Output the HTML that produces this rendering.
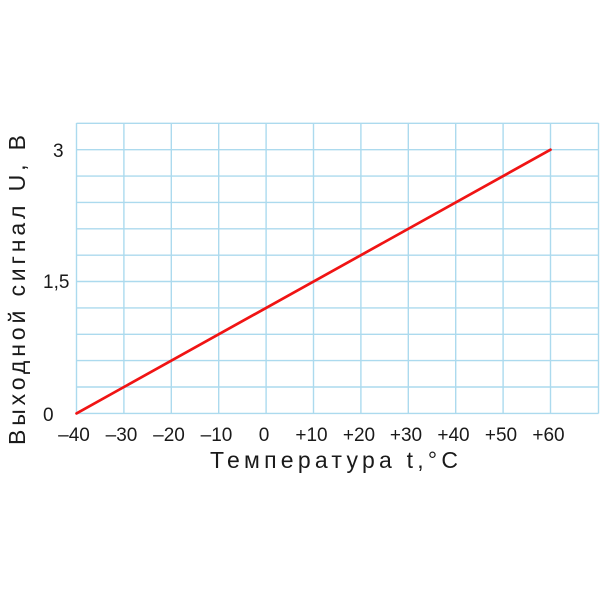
<!DOCTYPE html>
<html><head><meta charset="utf-8"><style>
html,body{margin:0;padding:0;background:#fff;}
svg{display:block;}
text{font-family:"Liberation Sans","DejaVu Sans",sans-serif;fill:#1a1a1a;}
</style></head><body>
<svg width="600" height="600" viewBox="0 0 600 600" xmlns="http://www.w3.org/2000/svg">
<rect x="0" y="0" width="600" height="600" fill="#ffffff"/>
<g stroke="#acdaee" stroke-width="1.4" fill="none">
<line x1="76.5" y1="123" x2="76.5" y2="413.5"/>
<line x1="123.9" y1="123" x2="123.9" y2="413.5"/>
<line x1="171.3" y1="123" x2="171.3" y2="413.5"/>
<line x1="218.7" y1="123" x2="218.7" y2="413.5"/>
<line x1="266.1" y1="123" x2="266.1" y2="413.5"/>
<line x1="313.5" y1="123" x2="313.5" y2="413.5"/>
<line x1="360.9" y1="123" x2="360.9" y2="413.5"/>
<line x1="408.3" y1="123" x2="408.3" y2="413.5"/>
<line x1="455.7" y1="123" x2="455.7" y2="413.5"/>
<line x1="503.1" y1="123" x2="503.1" y2="413.5"/>
<line x1="550.5" y1="123" x2="550.5" y2="413.5"/>
<line x1="598.5" y1="123" x2="598.5" y2="413.5"/>
<line x1="76.5" y1="123.3" x2="598.5" y2="123.3"/>
<line x1="76.5" y1="149.7" x2="598.5" y2="149.7"/>
<line x1="76.5" y1="176.1" x2="598.5" y2="176.1"/>
<line x1="76.5" y1="202.4" x2="598.5" y2="202.4"/>
<line x1="76.5" y1="228.8" x2="598.5" y2="228.8"/>
<line x1="76.5" y1="255.2" x2="598.5" y2="255.2"/>
<line x1="76.5" y1="281.5" x2="598.5" y2="281.5"/>
<line x1="76.5" y1="307.9" x2="598.5" y2="307.9"/>
<line x1="76.5" y1="334.3" x2="598.5" y2="334.3"/>
<line x1="76.5" y1="360.6" x2="598.5" y2="360.6"/>
<line x1="76.5" y1="387.0" x2="598.5" y2="387.0"/>
<line x1="76.5" y1="413.4" x2="598.5" y2="413.4"/>
</g>
<line x1="76.5" y1="413.4" x2="550.5" y2="149.7" stroke="#f01414" stroke-width="2.7" stroke-linecap="round"/>
<g font-size="19">
<text x="53" y="157">3</text>
<text x="43" y="288">1,5</text>
<text x="43" y="421">0</text>
</g>
<g font-size="19" text-anchor="middle">
<text x="74" y="441">–40</text>
<text x="121.5" y="441">–30</text>
<text x="169" y="441">–20</text>
<text x="216.5" y="441">–10</text>
<text x="264" y="441">0</text>
<text x="311.5" y="441">+10</text>
<text x="359" y="441">+20</text>
<text x="406" y="441">+30</text>
<text x="453.5" y="441">+40</text>
<text x="501" y="441">+50</text>
<text x="548.5" y="441">+60</text>
</g>
<text x="210" y="468" font-size="23" textLength="248" lengthAdjust="spacing">Температура t,°C</text>
<text transform="translate(25,445) rotate(-90)" x="0" y="0" font-size="23" textLength="310" lengthAdjust="spacing">Выходной сигнал U, В</text>
</svg>
</body></html>
